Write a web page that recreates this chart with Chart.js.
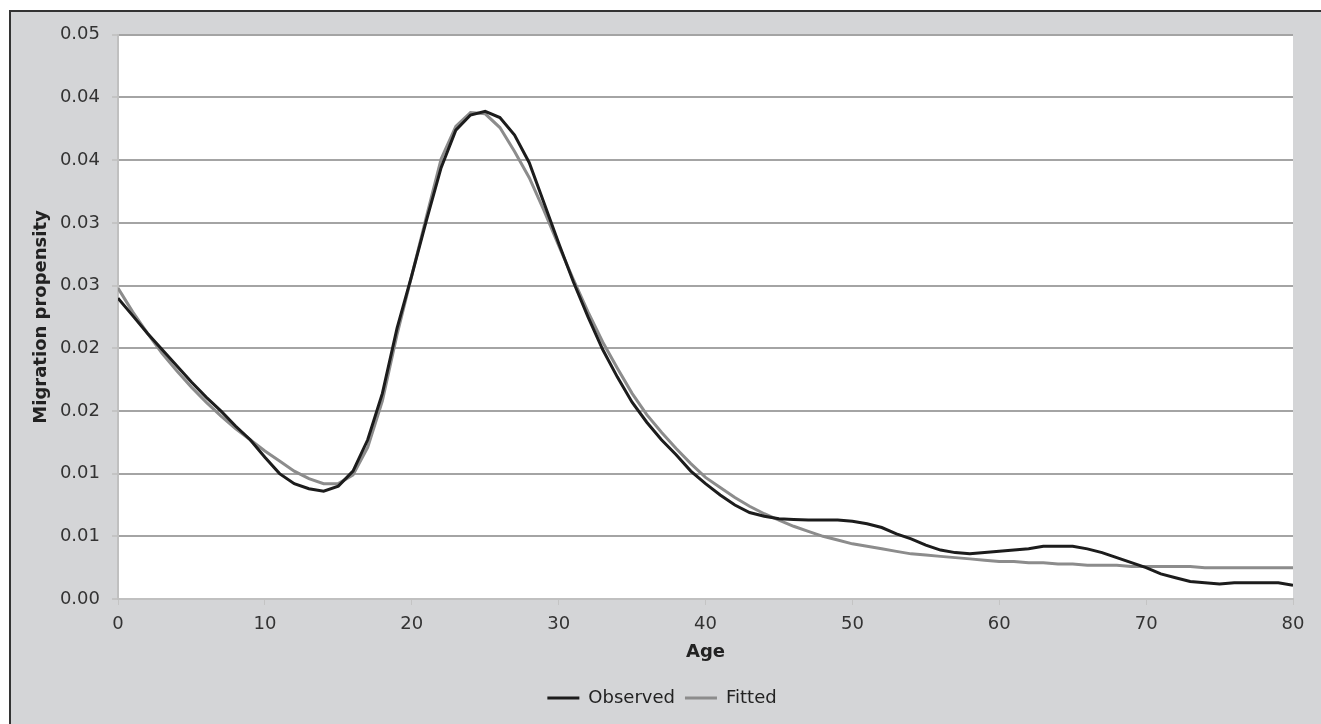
<!DOCTYPE html>
<html>
<head>
<meta charset="utf-8">
<script src="https://cdn.jsdelivr.net/npm/chart.js@4/dist/chart.umd.min.js"></script>
<style>
  html, body { margin: 0; padding: 0; background: #ffffff; overflow: hidden; }
  #frame { position: absolute; left: 9px; top: 10px; width: 1500px; height: 900px;
           border-top: 2px solid #333; border-left: 2px solid #333; background: #d4d5d7; }
  #wrap { position: absolute; left: 0; top: 0; width: 1310px; height: 712px; }
</style>
</head>
<body>
<div id="frame"><div id="wrap"><canvas id="c"></canvas></div></div>
<script>
const ages = [];
for (let a = 0; a <= 80; a++) ages.push(a);

const observed = [
  0.0240, 0.0226, 0.0212, 0.0199, 0.0186, 0.0173, 0.0161, 0.0150, 0.0138, 0.0127,
  0.0113, 0.0100, 0.0092, 0.0088, 0.0086, 0.0090, 0.0102, 0.0127, 0.0164, 0.0216,
  0.0258, 0.0302, 0.0344, 0.0374, 0.0386, 0.0389, 0.0384, 0.0370, 0.0348, 0.0316,
  0.0284, 0.0253, 0.0225, 0.0199, 0.0177, 0.0157, 0.0141, 0.0127, 0.0115, 0.0102,
  0.0092, 0.0083, 0.0075, 0.0069, 0.0066, 0.0064, 0.00635, 0.0063, 0.0063, 0.0063,
  0.0062, 0.0060, 0.0057, 0.0052, 0.0048, 0.0043, 0.0039, 0.0037, 0.0036, 0.0037,
  0.0038, 0.0039, 0.0040, 0.0042, 0.0042, 0.0042, 0.0040, 0.0037, 0.0033, 0.0029,
  0.0025, 0.0020, 0.0017, 0.0014, 0.0013, 0.0012, 0.0013, 0.0013, 0.0013, 0.0013,
  0.0011
];

const fitted = [
  0.0248, 0.0229, 0.0212, 0.0196, 0.0182, 0.0169, 0.0157, 0.0146, 0.0136, 0.0127,
  0.0118, 0.0110, 0.0102, 0.0096, 0.0092, 0.0092, 0.0099, 0.0121, 0.0158, 0.0211,
  0.0258, 0.0305, 0.0351, 0.0377, 0.0388, 0.0387, 0.0376, 0.0357, 0.0336, 0.0310,
  0.0282, 0.0255, 0.0229, 0.0205, 0.0184, 0.0164, 0.0147, 0.0133, 0.0120, 0.0108,
  0.0097, 0.0089, 0.0081, 0.0074, 0.0068, 0.0063, 0.0058, 0.0054, 0.0050, 0.0047,
  0.0044, 0.0042, 0.0040, 0.0038, 0.0036, 0.0035, 0.0034, 0.0033, 0.0032, 0.0031,
  0.0030, 0.0030, 0.0029, 0.0029, 0.0028, 0.0028, 0.0027, 0.0027, 0.0027, 0.0026,
  0.0026, 0.0026, 0.0026, 0.0026, 0.0025, 0.0025, 0.0025, 0.0025, 0.0025, 0.0025,
  0.0025
];

const yTickLabels = ['0.00','0.01','0.01','0.02','0.02','0.03','0.03','0.04','0.04','0.05'];
const xTickLabels = ['0','10','20','30','40','50','60','70','80'];

const plotBg = {
  id: 'plotBg',
  beforeDraw(chart) {
    const {ctx, chartArea: a} = chart;
    ctx.save();
    ctx.fillStyle = '#ffffff';
    ctx.fillRect(a.left, a.top, a.right - a.left, a.bottom - a.top);
    ctx.restore();
  }
};

const FONT = "'DejaVu Sans', Verdana, sans-serif";

new Chart(document.getElementById('c'), {
  type: 'line',
  data: {
    datasets: [
      { label: 'Observed', data: ages.map((a, i) => ({x: a, y: observed[i]})),
        borderColor: '#1c1c1c', backgroundColor: '#1c1c1c', borderWidth: 3,
        pointRadius: 0, pointStyle: 'line', tension: 0 },
      { label: 'Fitted', data: ages.map((a, i) => ({x: a, y: fitted[i]})),
        borderColor: '#8c8c8c', backgroundColor: '#8c8c8c', borderWidth: 3,
        pointRadius: 0, pointStyle: 'line', tension: 0 }
    ]
  },
  options: {
    responsive: true,
    maintainAspectRatio: false,
    animation: false,
    layout: { padding: { left: 20, right: 28, top: 21, bottom: 7 } },
    plugins: {
      legend: {
        position: 'bottom',
        labels: { usePointStyle: true, pointStyleWidth: 32, boxHeight: 18, padding: 10,
                  color: '#222', font: { family: FONT, size: 18 } }
      },
      tooltip: { enabled: false }
    },
    scales: {
      x: {
        type: 'linear', min: 0, max: 80,
        ticks: { stepSize: 10, color: '#333', padding: 9, maxRotation: 0,
                 font: { family: FONT, size: 18 },
                 callback: (v, i) => xTickLabels[i] },
        grid: { display: true, drawOnChartArea: false, drawTicks: true, tickLength: 6,
                tickColor: '#c4c4c4', lineWidth: 1 },
        border: { color: '#c0c0c0', width: 2 },
        title: { display: true, text: 'Age', color: '#222', padding: { top: 0, bottom: 16 },
                 font: { family: FONT, size: 18, weight: 'bold' } },
        afterFit: (s) => { s.height = 80; }
      },
      y: {
        type: 'linear', min: 0, max: 0.045,
        ticks: { stepSize: 0.005, color: '#333', padding: 12,
                 font: { family: FONT, size: 18 },
                 callback: (v, i) => yTickLabels[i] },
        grid: { color: '#a4a4a4', lineWidth: 2, drawTicks: true, tickLength: 6,
                tickColor: '#c4c4c4' },
        border: { color: '#c0c0c0', width: 2 },
        title: { display: true, text: 'Migration propensity', color: '#222',
                 padding: { top: 0, bottom: 0 },
                 font: { family: FONT, size: 18, weight: 'bold' } },
        afterFit: (s) => { s.width = 87; }
      }
    }
  },
  plugins: [plotBg]
});
</script>
</body>
</html>
